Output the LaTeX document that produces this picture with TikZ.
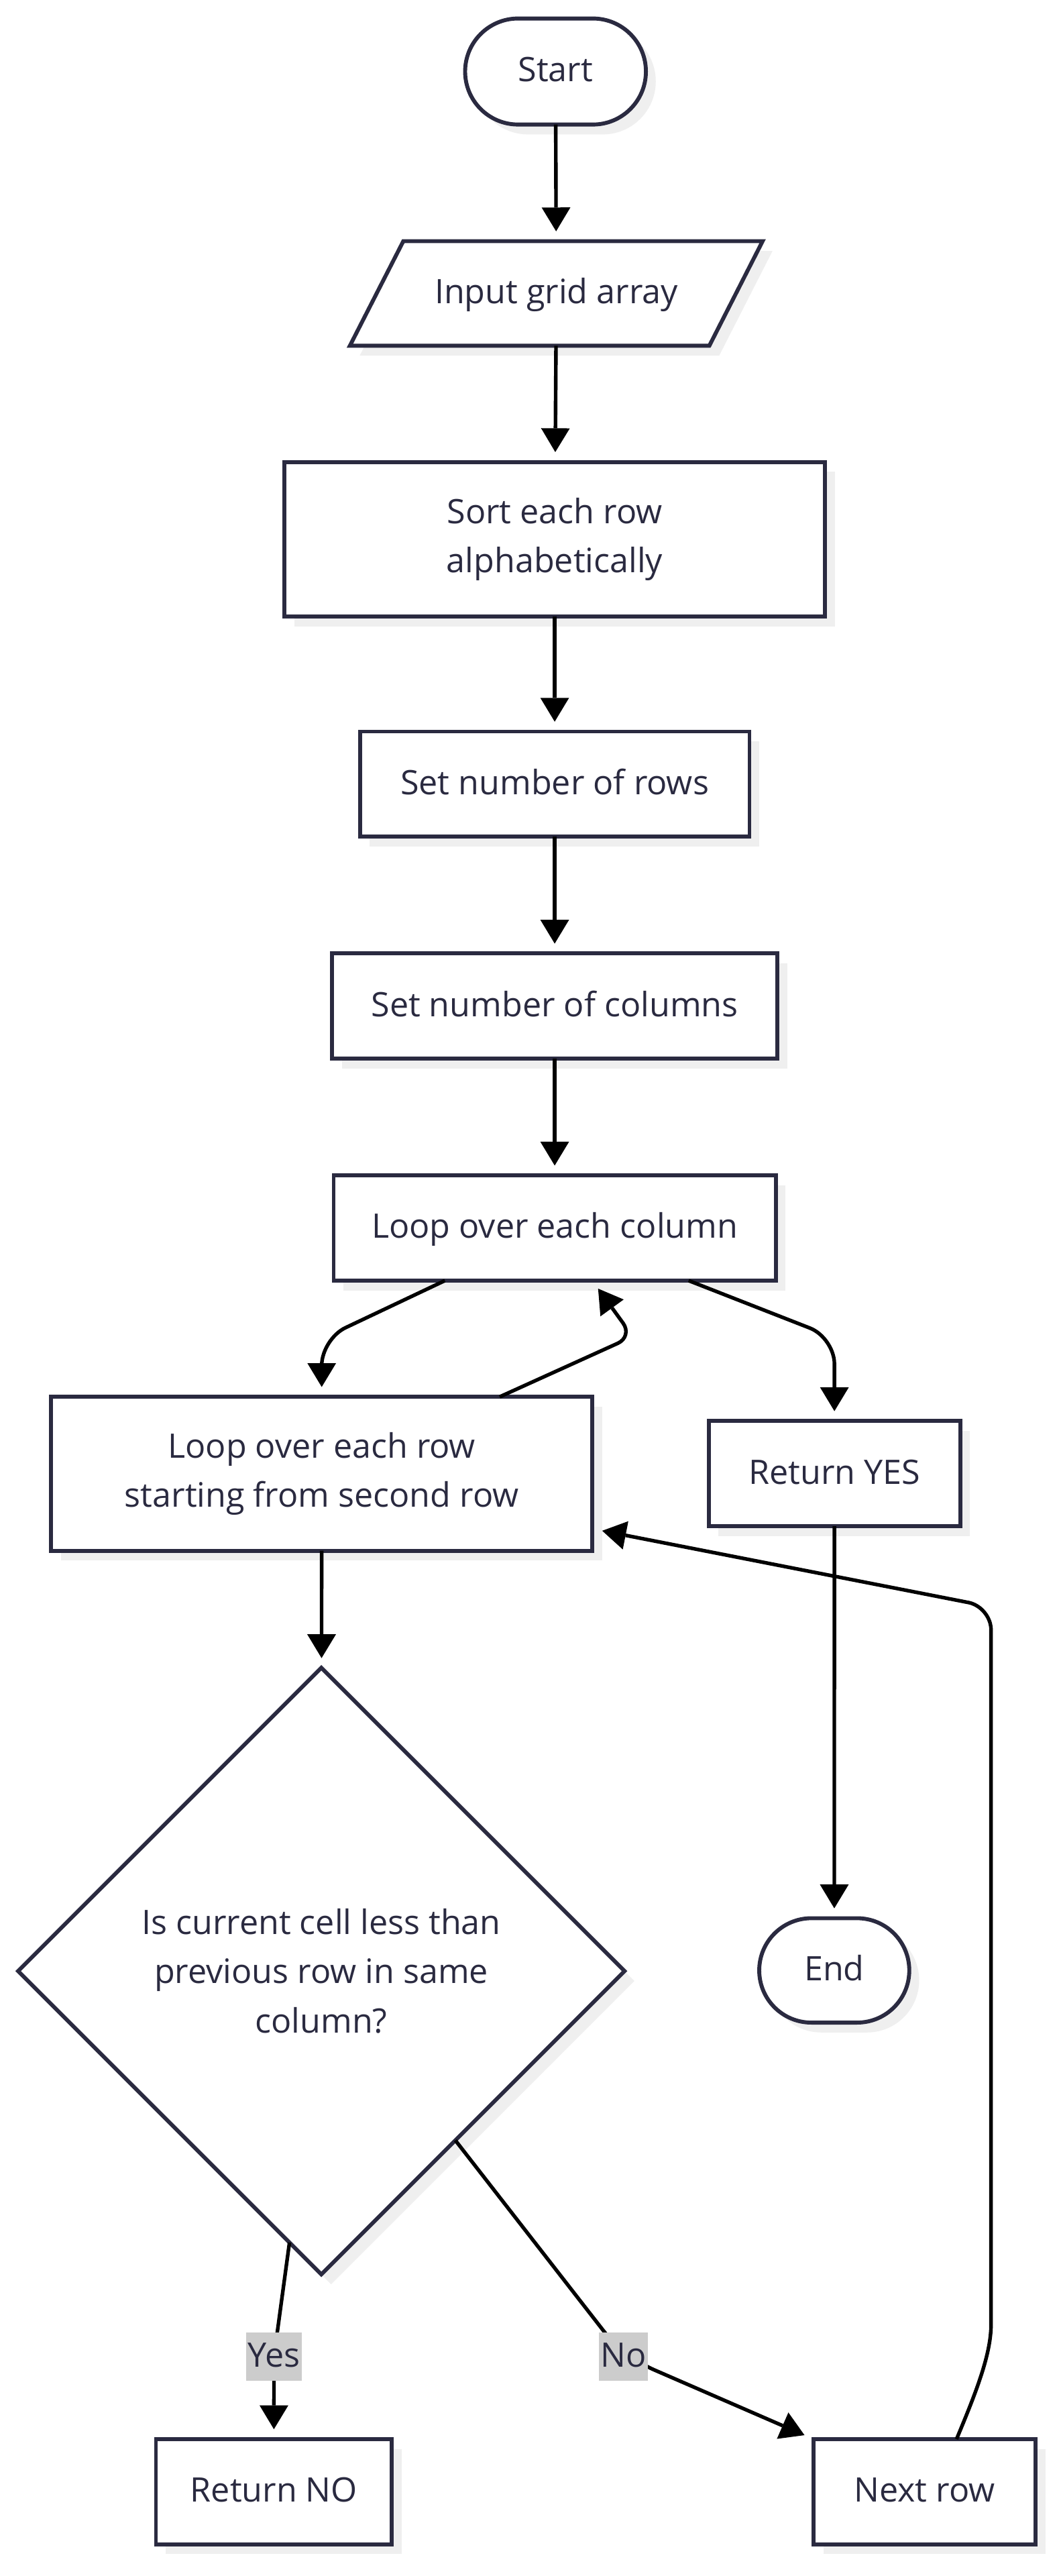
\documentclass[tikz,border=0pt]{standalone}
\usepackage{fontspec}
\setmainfont{Open Sans}
\usetikzlibrary{shapes.geometric,shapes.misc,arrows.meta,shadows,calc}
\definecolor{ink}{HTML}{2A2A40}
\definecolor{shadowgray}{HTML}{EFEFEF}
\definecolor{lblbg}{HTML}{CCCCCC}
\begin{document}
\begin{tikzpicture}[x=1pt,y=-1pt,
  txt/.style={text=ink, align=center, font=\fontsize{20.5}{30}\selectfont, inner sep=0pt, outer sep=0pt},
  one/.style={text height=16pt, text depth=3.5pt},
  box/.style={txt, draw=ink, line width=2.4pt, fill=white,
    drop shadow={shadow xshift=6pt, shadow yshift=-6pt, fill=shadowgray, opacity=1}},
  term/.style={box, rounded rectangle},
  decision/.style={box, diamond, aspect=1},
  lbl/.style={txt, one, fill=lblbg, inner xsep=1pt, minimum height=29.5pt},
  flow/.style={draw=black, line width=2.2pt,
    -{Triangle[length=14.5pt,width=17.5pt,line width=0pt]}, shorten >=6pt}
]
\fill[white] (0,0) rectangle (644,1567);
\useasboundingbox (0,0) rectangle (644,1567);

% input parallelogram
\fill[fill=shadowgray] (251.4,152.7) -- (470,152.7) -- (437.6,216.3) -- (218.9,216.3) -- cycle;
\draw[draw=ink, line width=2.4pt, fill=white] (245.4,146.7) -- (464,146.7) -- (431.6,210.3) -- (212.9,210.3) -- cycle;

% nodes
\node[term, one, minimum width=110pt, minimum height=64.5pt] (start) at (338,43.5) {Start};
\node[txt, one, minimum width=219pt, minimum height=63.6pt] (input) at (338.5,178.5) {Input grid array};
\node[box, minimum width=329pt, minimum height=94pt] (sort) at (337.5,328) {Sort each row\\alphabetically};
\node[box, one, minimum width=237pt, minimum height=64pt] (rows) at (337.5,477) {Set number of rows};
\node[box, one, minimum width=271pt, minimum height=64pt] (cols) at (337.5,612) {Set number of columns};
\node[box, one, minimum width=269pt, minimum height=64pt] (loopcol) at (337.5,747) {Loop over each column};
\node[box, minimum width=329.5pt, minimum height=93.6pt] (looprow) at (195.75,896.5) {Loop over each row\\starting from second row};
\node[box, one, minimum width=153pt, minimum height=64pt] (retyes) at (507.7,896.4) {Return YES};
\node[term, one, minimum width=91.3pt, minimum height=63.5pt] (end) at (507.6,1198.6) {End};
\node[decision, minimum width=369pt, minimum height=369pt] (dia) at (195.5,1199) {Is current cell less than\\previous row in same\\column?};
\node[box, one, minimum width=143.5pt, minimum height=64pt] (retno) at (166.65,1515.7) {Return NO};
\node[box, one, minimum width=135pt, minimum height=64pt] (nextrow) at (562.5,1515.7) {Next row};

\coordinate (yesat) at (166.7,1433.5);
\coordinate (noat) at (379.4,1433.5);

% connectors
\draw[flow] (start) -- (input);
\draw[flow] (input) -- (sort);
\draw[flow] (sort) -- (rows);
\draw[flow] (rows) -- (cols);
\draw[flow] (cols) -- (loopcol);
\draw[flow, rounded corners=16pt] ([xshift=-66.8pt]loopcol.south) -- (195.75,814.5) -- (looprow.north);
\draw[flow, rounded corners=10pt] ([xshift=108.25pt]looprow.north) -- (385,813) -- ([xshift=22.9pt]loopcol.south);
\draw[flow, rounded corners=16pt] ([xshift=81.5pt]loopcol.south) -- (507.7,813.7) -- (retyes.north);
\draw[flow] (retyes) -- (end);
\draw[flow] (looprow) -- (dia);
\draw[flow, rounded corners=6pt] ($(dia.south)!0.105!(dia.west)$) -- (yesat) -- (retno.north);
\draw[flow, rounded corners=20pt] ($(dia.east)!0.558!(dia.south)$) -- (noat) -- (nextrow.north west);
\draw[flow, rounded corners=14pt] ([xshift=19.5pt]nextrow.north) .. controls (594,1455) and (603,1432) .. (603,1400) -- (603,977.5) -- ([yshift=-33.5pt]looprow.east);

% edge labels
\node[lbl] (yeslbl) at (yesat) {Yes};
\node[lbl] (nolbl) at (noat) {No};
\end{tikzpicture}
\end{document}
